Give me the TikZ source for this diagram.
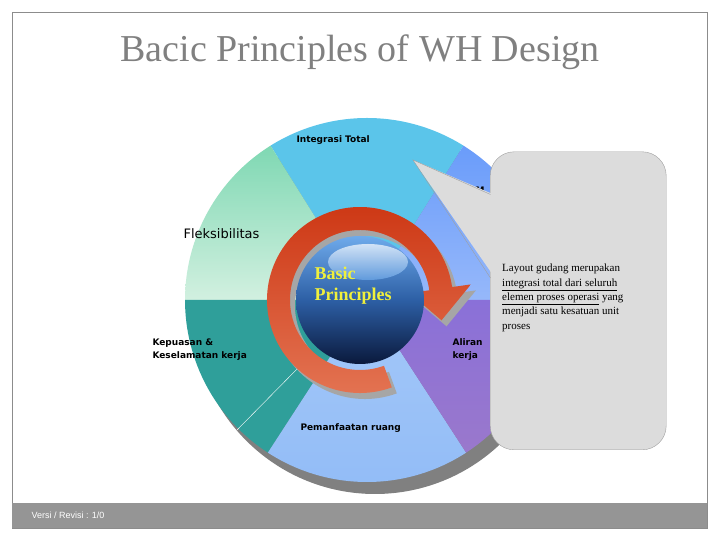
\documentclass[tikz,border=0pt]{standalone}
\usepackage{fontspec}
\usetikzlibrary{calc}
\setmainfont{Liberation Serif}
\newfontfamily\dv{DejaVu Sans}
\newfontfamily\ls{Liberation Sans}
\begin{document}
\begin{tikzpicture}[x=1pt,y=1pt,
  lbl/.style={font=\dv\bfseries\fontsize{9}{13}\selectfont, anchor=west, align=left, text=black}]
\useasboundingbox (0,0) rectangle (720,540);
\definecolor{cInt}{HTML}{5BC5EA}
\definecolor{cM}{HTML}{6A9CFA}
\definecolor{cMl}{HTML}{96B8FA}
\definecolor{cFl}{HTML}{7FD8B3}
\definecolor{cFll}{HTML}{D2F0E0}
\definecolor{cKep}{HTML}{2F9F9A}
\definecolor{cPem}{HTML}{92BCF7}
\definecolor{cPemT}{HTML}{A4C8F8}
\definecolor{cAl}{HTML}{9A78CC}
\definecolor{cAlT}{HTML}{8A70D8}
\definecolor{cCall}{HTML}{DCDCDC}
\definecolor{cCallB}{HTML}{A0A0A0}
\definecolor{cBar}{HTML}{959595}
\definecolor{cRingT}{HTML}{CD3714}
\definecolor{cRingB}{HTML}{E47655}
\definecolor{cSphT}{HTML}{6EAAEB}
\definecolor{cSphM}{HTML}{2D5FA5}
\definecolor{cSphB}{HTML}{0A193C}
\definecolor{cYel}{HTML}{F0F03C}
% frame and footer
\node[draw=gray!90, minimum width=695, minimum height=516, inner sep=0, anchor=south west] (frame) at (12,12) {};
\fill[cBar] (12,12) rectangle (707,37);
\node[font=\ls\fontsize{9}{11}\selectfont, text=white, anchor=west] (ver) at (28,24.5) {Versi / Revisi : 1/0};
\node[font=\fontsize{38}{40}\selectfont, text=gray] (title) at (360,488) {Bacic Principles of WH Design};
% pie
\coordinate (C) at (367,240);
\fill[gray] ([shift={(8,-12)}]C) circle (182);
\fill[cInt] (C) -- ++(58:182) arc[start angle=58,end angle=122,radius=182] -- cycle;
\shade[top color=cM, bottom color=cMl] (C) -- ++(0:182) arc[start angle=0,end angle=58,radius=182] -- cycle;
\shade[top color=cFl, bottom color=cFll] (C) -- ++(122:182) arc[start angle=122,end angle=180,radius=182] -- cycle;
\fill[cKep] (C) -- ++(180:182) arc[start angle=180,end angle=237,radius=182] -- cycle;
\shade[top color=cPemT, bottom color=cPem] (C) -- ++(237:182) arc[start angle=237,end angle=303,radius=182] -- cycle;
\shade[top color=cAlT, bottom color=cAl] (C) -- ++(303:182) arc[start angle=303,end angle=360,radius=182] -- cycle;
\draw[white, thin] (237,110) -- (303,177);
% ring arrow
\coordinate (S) at (360,240);
\coordinate (S2) at (365,234);
\fill[gray!70] (S2) ++(-70:93) arc[start angle=-70,end angle=-352,radius=93] -- ($(S2)+(-352:112)$) -- ($(S2)+(-14:84)$) -- ($(S2)+(-352:50)$) -- ($(S2)+(-352:70)$) arc[start angle=-352,end angle=-70,radius=70] -- cycle;
\shade[top color=cRingT, bottom color=cRingB]
  (S) ++(-70:93) arc[start angle=-70,end angle=-352,radius=93] -- ($(S)+(-352:112)$) -- ($(S)+(-14:84)$) -- ($(S)+(-352:50)$) -- ($(S)+(-352:70)$) arc[start angle=-352,end angle=-70,radius=70] -- cycle;
% sphere
\shade[top color=cSphT, bottom color=cSphB, middle color=cSphM] (S) circle (64);
\shade[top color=white, bottom color=cSphT, opacity=0.7] ($(S)+(8,38)$) ellipse (40 and 18);
\node[font=\bfseries\fontsize{18}{21}\selectfont, text=cYel, anchor=north west, align=left] (bp) at (311,277) {Basic\\Principles};
% labels
\node[lbl] (int) at (293,400) {Integrasi Total};
\node[lbl] (m) at (472,350) {M};
\node[font=\dv\fontsize{13}{15}\selectfont, anchor=west] (fl) at (180,306) {Fleksibilitas};
\node[lbl] (kep) at (149,190) {Kepuasan \&\\Keselamatan kerja};
\node[lbl] (al) at (449,190) {Aliran\\kerja};
\node[lbl] (pem) at (297,112) {Pemanfaatan ruang};
% callout
\node[draw=cCallB, fill=cCall, rounded corners=24, minimum width=176, minimum height=298, anchor=south west] (call) at (490,90) {};
\fill[cCall] (413,380) -- (495,345) -- (495,262) -- cycle;
\draw[cCallB] (490.5,345.5) -- (413,380) -- (490.5,262);
\node[anchor=north west, align=left, inner sep=0, font=\fontsize{11}{14.3}\selectfont] (ct) at (502,276)
  {Layout gudang merupakan\\\underline{integrasi total dari seluruh}\\\underline{elemen proses operasi} yang\\menjadi satu kesatuan unit\\proses};
\end{tikzpicture}
\end{document}
